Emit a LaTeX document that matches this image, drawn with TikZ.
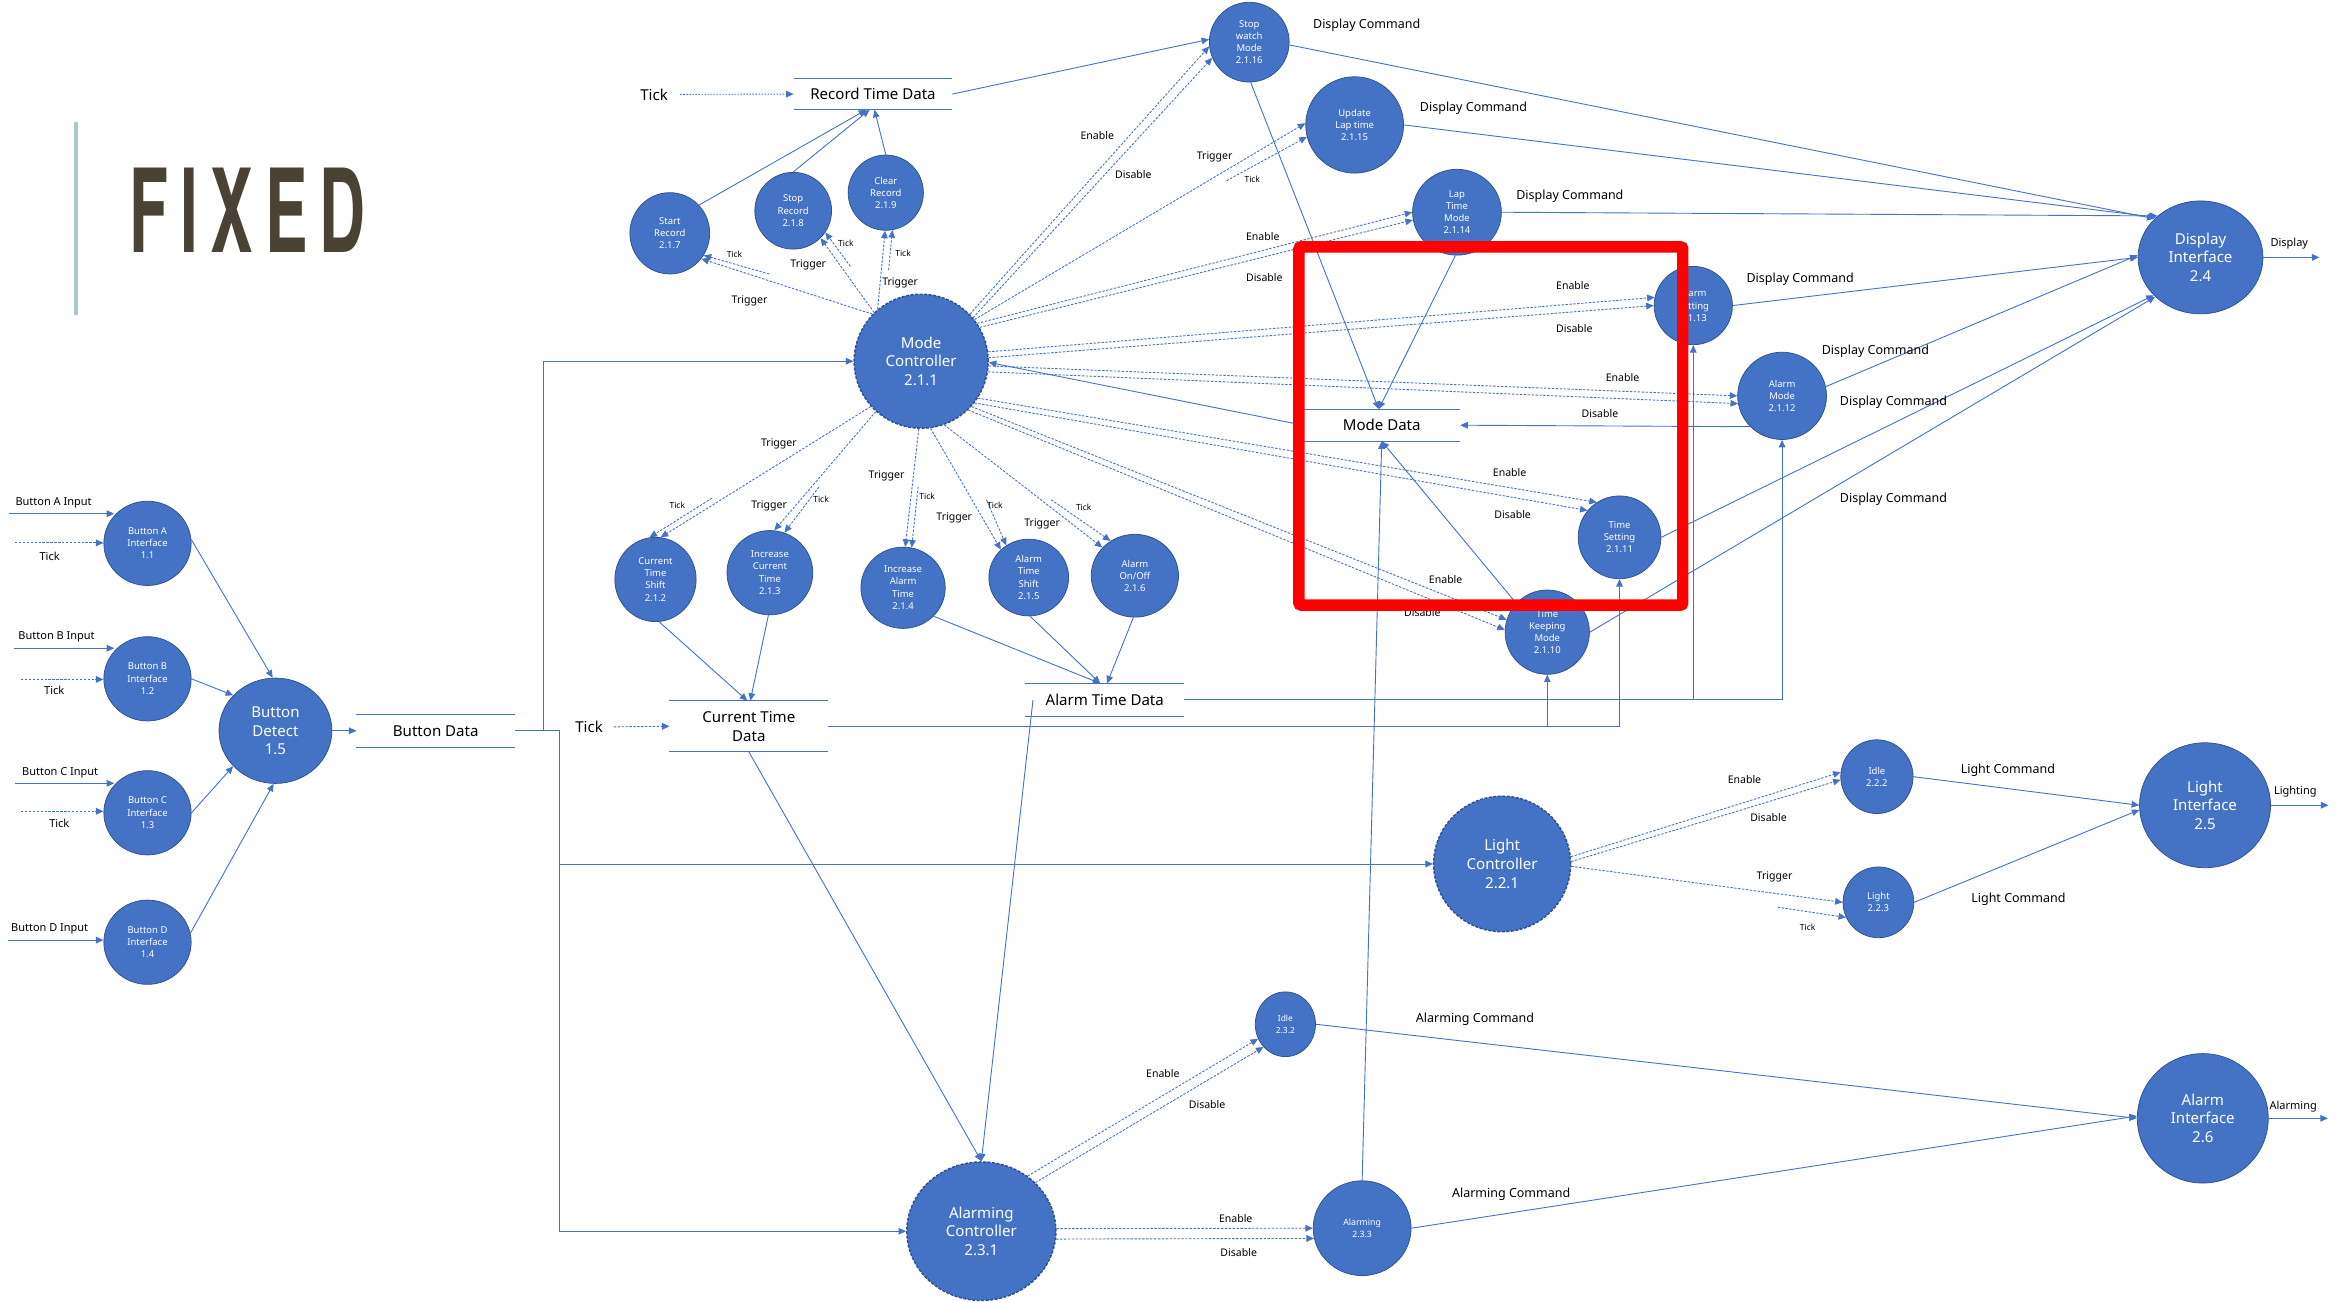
\documentclass[tikz,border=0pt]{standalone}
\usepackage{fontspec}
\setmainfont{Noto Sans}
\newfontfamily\titlefont{TeX Gyre Heros}[FakeStretch=0.55]
\usetikzlibrary{arrows.meta,shapes.geometric}
\definecolor{nblue}{HTML}{4472C4}
\definecolor{nedge}{HTML}{2F528F}
\definecolor{lblue}{HTML}{4472C4}
\definecolor{titlec}{HTML}{4A4335}
\definecolor{barc}{HTML}{A7C9CB}
\newcommand\fs[2]{\fontsize{#1}{#2}\selectfont}
\begin{document}
\begin{tikzpicture}[x=1pt,y=-1pt,
 proc/.style={ellipse, fill=nblue, draw=nedge, line width=0.5pt, text=white, align=center, inner sep=0pt},
 bigp/.style={proc, font=\fs{10}{12.4}},
 smp/.style={proc, font=\fs{6.3}{8.1}},
 ctrlp/.style={bigp, dash pattern=on 2pt off 1pt, line width=1pt},
 store/.style={inner sep=0pt, align=center, font=\fs{10}{12.5}},
 sline/.style={draw=lblue, line width=0.8pt},
 flow/.style={draw=lblue, line width=0.6pt, -{Triangle[length=5pt,width=4.4pt]}},
 ctl/.style={flow, dash pattern=on 1.6pt off 1pt},
 lbl/.style={inner sep=0pt, font=\fs{7}{8}},
 tk/.style={inner sep=0pt, font=\fs{5.6}{6}},
 cmd/.style={inner sep=0pt, font=\fs{8.3}{9}},
 io/.style={inner sep=0pt, font=\fs{7.3}{8}},
 big/.style={inner sep=0pt, font=\fs{10}{12}},
]
\useasboundingbox (0,0) rectangle (1560,865);
\fill[white] (0,0) rectangle (1560,865);

% ---------- title ----------
\fill[barc] (49.2,81) rectangle (51.9,209.6);
\node[anchor=base west, inner sep=0pt, text=titlec, font=\titlefont\bfseries\fontsize{77}{77}\selectfont] (title) at (86,168) {F\kern8pt I\kern8pt X\kern8pt E\kern8pt D};

% ---------- button part ----------
\node[smp, minimum width=58pt, minimum height=56pt] (ba) at (98,361) {Button A\\Interface\\1.1};
\node[smp, minimum width=58pt, minimum height=56pt] (bb) at (98,451) {Button B\\Interface\\1.2};
\node[smp, minimum width=58pt, minimum height=56pt] (bc) at (98,540) {Button C\\Interface\\1.3};
\node[smp, minimum width=58pt, minimum height=56pt] (bd) at (98,626) {Button D\\Interface\\1.4};
\node[bigp, minimum width=75pt, minimum height=70pt] (bdet) at (183,485.5) {Button\\Detect\\1.5};
\node[store, minimum width=105pt, minimum height=21.5pt] (bdata) at (289.5,485.5) {Button Data};

\node[io] (lbai) at (35.6,334) {Button A Input};
\node[io] (lbbi) at (37.6,423.3) {Button B Input};
\node[io] (lbci) at (40,513.3) {Button C Input};
\node[io] (lbdi) at (33,617) {Button D Input};
\node[io] (lta) at (33,369.5) {Tick};
\node[io] (ltb) at (36,459) {Tick};
\node[io] (ltc) at (39.4,547) {Tick};

\coordinate (ain) at (6,341.3);
\coordinate (bin) at (9,430.7);
\coordinate (cin) at (10,520.4);
\coordinate (din) at (5.6,624.6);
\coordinate (atk) at (10,360.7);
\coordinate (btk) at (14,451.4);
\coordinate (ctk) at (14,539);
\draw[flow] (ain) -- (ain -| ba.140);
\draw[flow] (bin) -- (bin -| bb.140);
\draw[flow] (cin) -- (cin -| bc.140);
\draw[flow] (din) -- (din -| bd.west);
\draw[ctl] (atk) -- (atk -| ba.west);
\draw[ctl] (btk) -- (btk -| bb.west);
\draw[ctl] (ctk) -- (ctk -| bc.west);

\draw[flow] (ba.5) -- (bdet.93);
\draw[flow] (bb.0) -- (bdet.140);
\draw[flow] (bc.0) -- (bdet.220);
\draw[flow] (bd.12) -- (bdet.268);
\draw[flow] (bdet.east) -- (bdata.west);

% ---------- processes ----------
\node[ctrlp, minimum width=89pt, minimum height=89pt] (mc) at (612,240) {Mode\\Controller\\2.1.1};
\node[smp, minimum width=53pt, minimum height=54pt] (sr) at (445,155) {Start\\Record\\2.1.7};
\node[smp, minimum width=51pt, minimum height=51pt] (str) at (527,140) {Stop\\Record\\2.1.8};
\node[smp, minimum width=50pt, minimum height=50pt] (cr) at (588.5,128) {Clear\\Record\\2.1.9};
\node[smp, minimum width=53pt, minimum height=53pt] (sw) at (830,28) {Stop\\watch\\Mode\\2.1.16};
\node[smp, minimum width=65pt, minimum height=64pt] (ul) at (900,83) {Update\\Lap time\\2.1.15};
\node[smp, minimum width=59pt, minimum height=57pt] (ltm) at (968,141) {Lap\\Time\\Mode\\2.1.14};
\node[smp, minimum width=52pt, minimum height=52pt] (as) at (1125,203) {Alarm\\Setting\\2.1.13};
\node[smp, minimum width=59pt, minimum height=58pt] (am) at (1184,263) {Alarm\\Mode\\2.1.12};
\node[smp, minimum width=55pt, minimum height=55pt] (ts) at (1076,357) {Time\\Setting\\2.1.11};
\node[smp, minimum width=56pt, minimum height=56pt] (tkm) at (1028,420) {Time\\Keeping\\Mode\\2.1.10};
\node[bigp, minimum width=83pt, minimum height=75pt] (di) at (1462,171) {Display\\Interface\\2.4};
\node[smp, minimum width=54pt, minimum height=56pt] (cts) at (435.5,385) {Current\\Time\\Shift\\2.1.2};
\node[smp, minimum width=57pt, minimum height=56pt] (ict) at (511.5,380.5) {Increase\\Current\\Time\\2.1.3};
\node[smp, minimum width=56pt, minimum height=54pt] (iat) at (600,390.5) {Increase\\Alarm\\Time\\2.1.4};
\node[smp, minimum width=53pt, minimum height=51pt] (ats) at (683.5,383.7) {Alarm\\Time\\Shift\\2.1.5};
\node[smp, minimum width=58pt, minimum height=55pt] (aoo) at (754,382.5) {Alarm\\On/Off\\2.1.6};
\node[ctrlp, minimum width=91pt, minimum height=90pt] (lc) at (998,574) {Light\\Controller\\2.2.1};
\node[smp, minimum width=48pt, minimum height=49pt] (lidle) at (1247,516) {Idle\\2.2.2};
\node[smp, minimum width=47pt, minimum height=47pt] (light) at (1248,599.5) {Light\\2.2.3};
\node[bigp, minimum width=87pt, minimum height=83pt] (lif) at (1465,535) {Light\\Interface\\2.5};
\node[ctrlp, minimum width=99pt, minimum height=92pt] (ac) at (652,818) {Alarming\\Controller\\2.3.1};
\node[smp, minimum width=40pt, minimum height=43pt, font=\fs{5.6}{7.5}] (aidle) at (854,680.5) {Idle\\2.3.2};
\node[smp, minimum width=65pt, minimum height=63pt, font=\fs{5.8}{7.8}] (alm) at (905,816) {Alarming\\2.3.3};
\node[bigp, minimum width=87pt, minimum height=86pt] (aif) at (1463.5,743) {Alarm\\Interface\\2.6};

% ---------- stores ----------
\node[store, minimum width=105pt, minimum height=20.5pt] (rtd) at (580,62.5) {Record Time Data};
\node[store, minimum width=104pt, minimum height=21pt] (mdata) at (918,282.5) {Mode Data};
\node[store, minimum width=105pt, minimum height=33.5pt] (ctd) at (497.5,482.5) {Current Time\\Data};
\node[store, minimum width=105pt, minimum height=21.5pt] (atd) at (734,465) {Alarm Time Data};
\foreach \s in {bdata,rtd,mdata,ctd,atd}{
  \draw[sline] (\s.north west) -- (\s.north east) (\s.south west) -- (\s.south east);
}

% ---------- bus from Button Data ----------
\coordinate (j1) at (361,485.5);
\coordinate (j2) at (372,485.5);
\draw[draw=lblue, line width=0.6pt] (bdata.east) -- (j2);
\draw[flow] (j1) |- (mc.west);
\draw[flow] (j2) |- (lc.west);
\draw[flow] (j2) |- (ac.west);

% ---------- record time data ----------
\node[big] (tkr) at (434.6,62.7) {Tick};
\draw[flow, dash pattern=on 1pt off 1pt, shorten <=8pt] (tkr.east) -- (rtd.west);
\draw[flow] (sr.44) -- ([xshift=-4.5pt]rtd.south);
\draw[flow] (str.north) -- ([xshift=-2.3pt]rtd.south);
\draw[flow] (cr.north) -- ([xshift=1pt]rtd.south);
\draw[flow] (rtd.east) -- (sw.176);

\draw[ctl] (mc.136) -- (sr.321);
\coordinate (tsr) at (511,182); \draw[ctl] (tsr) -- (sr.327);
\draw[ctl] (mc.134) -- (str.315);
\coordinate (tstr) at (565,177); \draw[ctl] (tstr) -- (str.326);
\draw[ctl] (mc.130) -- (cr.269);
\coordinate (tcr) at (590.4,179.4); \draw[ctl] (tcr) -- (cr.280);
\node[tk] (k1) at (488,169) {Tick};
\node[lbl] (g1) at (498,200) {Trigger};
\node[tk] (k2) at (562,162) {Tick};
\node[lbl] (g2) at (537,176) {Trigger};
\node[tk] (k3) at (600,168) {Tick};
\node[lbl] (g3) at (598,188) {Trigger};

% ---------- mode controller to the right ----------
\draw[ctl] (mc.44) -- (sw.186);
\draw[ctl] (mc.40) -- (sw.203);
\node[lbl] (e1) at (729,90) {Enable};
\node[lbl] (d1) at (753,116) {Disable};
\draw[ctl] (mc.38) -- (ul.178);
\coordinate (tul) at (815,120); \draw[ctl] (tul) -- (ul.194);
\node[lbl] (g4) at (807,104) {Trigger};
\node[tk] (k4) at (832,119) {Tick};
\draw[ctl] (mc.34) -- (ltm.180);
\draw[ctl] (mc.30) -- (ltm.190);
\node[lbl] (e2) at (839,157) {Enable};
\node[lbl] (d2) at (840,184.5) {Disable};
\draw[ctl] (mc.8) -- (as.168);
\draw[ctl] (mc.3) -- (as.180);
\node[lbl] (e3) at (1045,190) {Enable};
\node[lbl] (d3) at (1046,218) {Disable};
\draw[ctl] (mc.-4) -- (am.180);
\draw[ctl] (mc.-9) -- (am.190);
\node[lbl] (e4) at (1078,251) {Enable};
\node[lbl] (d4) at (1063,275) {Disable};
\draw[ctl] (mc.-33) -- (ts.123);
\draw[ctl] (mc.-38) -- (ts.140);
\node[lbl] (e5) at (1003,314) {Enable};
\node[lbl] (d5) at (1005,342) {Disable};
\draw[ctl] (mc.-42) -- (tkm.163);
\draw[ctl] (mc.-46) -- (tkm.177);
\node[lbl] (e6) at (960.5,385) {Enable};
\node[lbl] (d6) at (945,407) {Disable};
\draw[flow] (mdata.west) -- (mc.-1);

% ---------- mode controller downwards ----------
\draw[ctl] (mc.222) -- (cts.83);
\coordinate (tcts) at (473,331); \draw[ctl] (tcts) -- (cts.98);
\draw[ctl] (mc.228) -- (ict.84);
\coordinate (tict) at (544,323.6); \draw[ctl] (tict) -- (ict.70);
\draw[ctl] (mc.268) -- (iat.87);
\coordinate (tiat) at (610,323.4); \draw[ctl] (tiat) -- (iat.78);
\draw[ctl] (mc.278) -- (ats.135);
\coordinate (tats) at (655.4,332); \draw[ctl] (tats) -- (ats.125);
\draw[ctl] (mc.290) -- (aoo.139);
\coordinate (taoo) at (698.4,332); \draw[ctl] (taoo) -- (aoo.125);
\node[lbl] (g5) at (517.5,295) {Trigger};
\node[tk] (k5) at (450,336) {Tick};
\node[lbl] (g6) at (511,336) {Trigger};
\node[tk] (k6) at (545.5,332) {Tick};
\node[lbl] (g7) at (589,316) {Trigger};
\node[tk] (k7) at (616,330) {Tick};
\node[lbl] (g8) at (634,344) {Trigger};
\node[tk] (k8) at (661,336) {Tick};
\node[lbl] (g9) at (692.4,348) {Trigger};
\node[tk] (k9) at (720,337) {Tick};

% ---------- time data ----------
\draw[flow] (cts.275) -- ([xshift=-1pt]ctd.north);
\draw[flow] (ict.268) -- ([xshift=1pt]ctd.north);
\draw[flow] (iat.317) -- ([xshift=-3pt]atd.north);
\draw[flow] (ats.272) -- ([xshift=-3pt]atd.north);
\draw[flow] (aoo.268) -- ([xshift=1.5pt]atd.north);
\node[big] (tkc) at (391.4,483) {Tick};
\draw[ctl, shorten <=7pt] (tkc.east) -- (ctd.west);
\draw[flow] (ctd.east) -| (tkm.south);
\draw[flow] (ctd.east) -| (ts.south);
\draw[flow] (atd.east) -| (as.south);
\draw[flow] (atd.east) -| (am.south);
\draw[flow] (ctd.south) -- (ac.north);
\draw[flow] ([xshift=5pt]atd.west) -- (ac.north);

% ---------- mode data ----------
\draw[flow] (sw.272) -- ([xshift=-2pt]mdata.north);
\draw[flow] (ltm.268) -- ([xshift=-2pt]mdata.north);
\draw[flow] (am.224) -- (mdata.east);
\draw[flow] (tkm.137) -- (mdata.south);
\draw[flow] (alm.north) -- (mdata.south);

% ---------- display commands ----------
\draw[flow] (sw.-4) -- (di.140);
\draw[flow] (ul.0) -- (di.138);
\draw[flow] (ltm.0) -- (di.136);
\draw[flow] (as.0) -- (di.180);
\draw[flow] (am.12) -- (di.178);
\draw[flow] (ts.0) -- (di.219);
\draw[flow] (tkm.0) -- (di.221);
\coordinate (dout) at (1541,171);
\draw[flow] (di.east) -- (dout);
\node[cmd] (c1) at (908,17) {Display Command};
\node[cmd] (c2) at (979,72) {Display Command};
\node[cmd] (c3) at (1043,130.5) {Display Command};
\node[cmd] (c4) at (1196,185.5) {Display Command};
\node[cmd] (c5) at (1246,233.5) {Display Command};
\node[cmd] (c6) at (1258,267.5) {Display Command};
\node[cmd] (c7) at (1258,331.5) {Display Command};
\node[io] (dlab) at (1521,162) {Display};

% ---------- light ----------
\draw[ctl] (lc.6) -- (lidle.173);
\draw[ctl] (lc.2) -- (lidle.185);
\draw[ctl] (lc.-2) -- (light.180);
\coordinate (tli) at (1181,602.7); \draw[ctl] (tli) -- (light.205);
\draw[flow] (lidle.0) -- (lif.180);
\draw[flow] (light.0) -- (lif.184);
\coordinate (lout) at (1547,535);
\draw[flow] (lif.east) -- (lout);
\node[lbl] (e7) at (1159,518) {Enable};
\node[lbl] (d7) at (1175,543) {Disable};
\node[lbl] (g10) at (1179,582.5) {Trigger};
\node[tk] (k10) at (1201,616) {Tick};
\node[cmd] (c8) at (1334,512) {Light Command};
\node[cmd] (c9) at (1341,597.5) {Light Command};
\node[io] (llab) at (1525,526) {Lighting};

% ---------- alarming ----------
\draw[ctl] (ac.50) -- (aidle.208);
\draw[ctl] (ac.42) -- (aidle.226);
\draw[ctl] (ac.2) -- (alm.180);
\draw[ctl] (ac.-6) -- (alm.192);
\draw[flow] (aidle.0) -- (aif.180);
\draw[flow] (alm.0) -- (aif.178);
\coordinate (aout) at (1546.6,743);
\draw[flow] (aif.east) -- (aout);
\node[lbl] (e8) at (772.6,713) {Enable};
\node[lbl] (d8) at (802,734) {Disable};
\node[lbl] (e9) at (821,809.5) {Enable};
\node[lbl] (d9) at (823,832) {Disable};
\node[cmd] (c10) at (980,677) {Alarming Command};
\node[cmd] (c11) at (1004,793.5) {Alarming Command};
\node[io] (alab) at (1523.6,735) {Alarming};

% ---------- red frame ----------
\draw[red, line width=7.6pt, rounded corners=1.5pt] (863,164) rectangle (1118,402);
\end{tikzpicture}
\end{document}
